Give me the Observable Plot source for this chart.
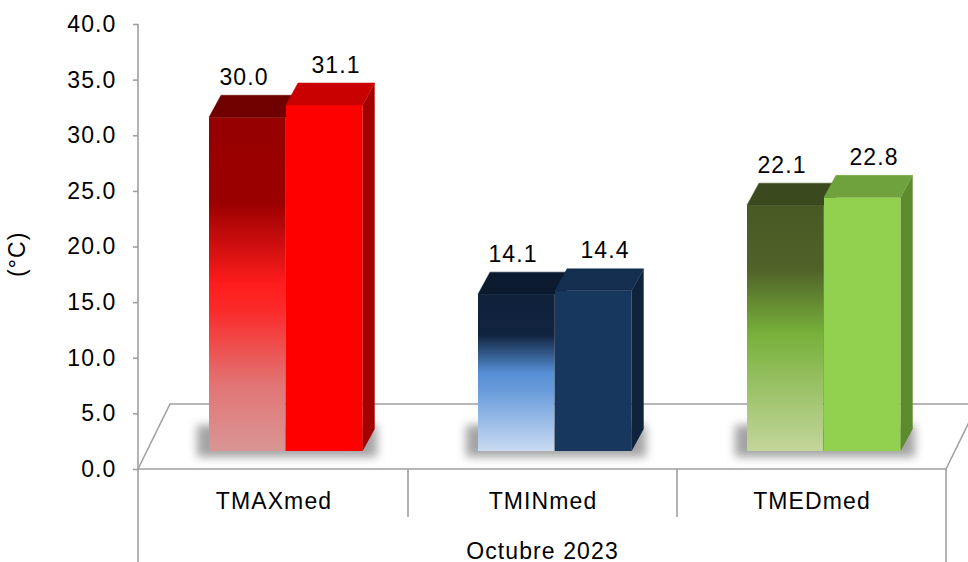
<!DOCTYPE html>
<html>
<head>
<meta charset="utf-8">
<script src="https://cdn.jsdelivr.net/npm/d3@7"></script>
<script src="https://cdn.jsdelivr.net/npm/@observablehq/plot@0.6"></script>
<style>
  html, body { margin: 0; padding: 0; background: #ffffff; }
  #chart svg text { letter-spacing: 1.1px; }
</style>
</head>
<body>
<div id="chart"></div>
<script>
// Monthly mean temperatures (°C): reference value vs. the month shown
const categories = ["TMAXmed", "TMINmed", "TMEDmed"];
const referenceValues = [30.0, 14.1, 22.1];
const monthValues = [31.1, 14.4, 22.8];
const yTicks = [0, 5, 10, 15, 20, 25, 30, 35, 40];
const yLabel = "(°C)";
const periodLabel = "Octubre 2023";

// Colours for the front (gradient) bars and the solid bars
const gradientStops = {
  TMAXmed: [[0, "#960000"], [0.26, "#9c0000"], [0.5, "#ff1c1c"], [0.58, "#fb2a2a"], [0.8, "#e27474"], [1, "#d99694"]],
  TMINmed: [[0, "#0f213b"], [0.26, "#11243f"], [0.5, "#558ed5"], [0.62, "#6a9cdb"], [1, "#c9dbf2"]],
  TMEDmed: [[0, "#475a24"], [0.26, "#4f6228"], [0.52, "#77b03a"], [1, "#c3d69b"]]
};
const gradTop = {TMAXmed: "#700000", TMINmed: "#0b1a2f", TMEDmed: "#3b4a1e"};
const gradSide = {TMAXmed: "#6a0000", TMINmed: "#0a172a", TMEDmed: "#34431b"};
const solidFront = {TMAXmed: "#ff0000", TMINmed: "#17375e", TMEDmed: "#92d050"};
const solidTop = {TMAXmed: "#c80000", TMINmed: "#132e4e", TMEDmed: "#6fa23c"};
const solidSide = {TMAXmed: "#a30000", TMINmed: "#10233d", TMEDmed: "#5e8a2e"};

const referenceRows = categories.map((category, i) => ({category, value: referenceValues[i]}));
const monthRows = categories.map((category, i) => ({category, value: monthValues[i]}));

const gradId = (c) => `grad-${c}`;

// bar depth (perspective offset of top and side faces)
const DX = 12, DY = -22;
// floor depth
const FX = 32, FY = -65;
const LINE = "#a0a0a0";

// Adds top and side faces to every bar drawn by a barY mark
function extrude(rows, topColors, sideColors) {
  return function (index, scales, values, dimensions, context, next) {
    const g = next(index, scales, values, dimensions, context);
    const rects = Array.from(g.querySelectorAll("rect"));
    rects.forEach((r, j) => {
      const cat = rows[index[j]].category;
      const x = +r.getAttribute("x"), y = +r.getAttribute("y");
      const w = +r.getAttribute("width"), h = +r.getAttribute("height");
      const parent = r.parentNode;
      const side = document.createElementNS("http://www.w3.org/2000/svg", "polygon");
      side.setAttribute("points", [[x + w, y], [x + w + DX, y + DY], [x + w + DX, y + h + DY], [x + w, y + h]].map(p => p.join(",")).join(" "));
      side.setAttribute("fill", sideColors[cat]);
      const top = document.createElementNS("http://www.w3.org/2000/svg", "polygon");
      top.setAttribute("points", [[x, y], [x + DX, y + DY], [x + w + DX, y + DY], [x + w, y]].map(p => p.join(",")).join(" "));
      top.setAttribute("fill", topColors[cat]);
      top.setAttribute("stroke", topColors[cat]);
      top.setAttribute("stroke-width", 0.5);
      parent.appendChild(side);
      parent.appendChild(top);
    });
    return g;
  };
}

// Floor plane, axis line and category dividers
function floorMark(index, scales, values, dimensions) {
  const {width, height, marginLeft, marginRight, marginTop} = dimensions;
  const y0 = scales.y(0);
  const xl = marginLeft, xr = width - marginRight;
  const g = d3.create("svg:g");
  g.append("path")
    .attr("d", `M${xl},${y0}L${xl + FX},${y0 + FY}L${xr + FX},${y0 + FY}L${xr},${y0}Z`)
    .attr("fill", "#ffffff")
    .attr("stroke", LINE)
    .attr("stroke-width", 1.6);
  const lines = g.append("g").attr("stroke", LINE).attr("stroke-width", 1.6);
  lines.append("line").attr("x1", xl).attr("x2", xl).attr("y1", marginTop).attr("y2", height);
  lines.append("line").attr("x1", xr).attr("x2", xr).attr("y1", y0).attr("y2", height);
  categories.slice(1).forEach(c => {
    const xc = scales.x(c);
    lines.append("line").attr("x1", xc).attr("x2", xc).attr("y1", y0).attr("y2", y0 + 48);
  });
  return g.node();
}

// Soft shadow cast on the floor under each pair of bars
function shadowMark(index, scales, values, dimensions) {
  const y0 = scales.y(0);
  const g = d3.create("svg:g");
  const f = g.append("defs").append("filter").attr("id", "floor-blur")
    .attr("x", "-30%").attr("y", "-50%").attr("width", "160%").attr("height", "200%");
  f.append("feGaussianBlur").attr("stdDeviation", 5);
  categories.forEach(c => {
    const xc = scales.x(c);
    g.append("rect")
      .attr("x", xc + 58).attr("y", y0 - 44)
      .attr("width", 180).attr("height", 32)
      .attr("fill", "#4a4a4a").attr("opacity", 0.5)
      .attr("filter", "url(#floor-blur)");
  });
  return g.node();
}

const chart = Plot.plot({
  width: 968,
  height: 562,
  marginLeft: 138,
  marginRight: 22,
  marginTop: 24,
  marginBottom: 93,
  style: {fontFamily: '"Liberation Sans", Arial, sans-serif', background: "#ffffff", color: "#000000"},
  x: {domain: categories, padding: 0},
  y: {domain: [0, 40]},
  color: {type: "identity"},
  marks: [
    floorMark,
    shadowMark,
    Plot.barY(referenceRows, {
      x: "category", y: "value",
      fill: d => `url(#${gradId(d.category)})`,
      insetLeft: 70, insetRight: 122.3, dy: -18,
      render: extrude(referenceRows, gradTop, gradSide)
    }),
    Plot.barY(monthRows, {
      x: "category", y: "value",
      fill: d => solidFront[d.category],
      insetLeft: 147, insetRight: 45.3, dy: -18,
      render: extrude(monthRows, solidTop, solidSide)
    }),
    Plot.text(referenceRows, {
      x: "category", y: "value", text: d => d.value.toFixed(1),
      dx: -30, dy: -51, lineAnchor: "bottom", fontSize: 23, fill: "#000000"
    }),
    Plot.text(monthRows, {
      x: "category", y: "value", text: d => d.value.toFixed(1),
      dx: 62, dy: -51, lineAnchor: "bottom", fontSize: 23, fill: "#000000"
    }),
    Plot.axisY({
      ticks: yTicks, tickFormat: d => d.toFixed(1),
      tickSize: 5, tickPadding: 17, fontSize: 23,
      stroke: LINE, strokeWidth: 1.6, label: null
    }),
    Plot.axisX({tickSize: 0, tickPadding: 23, fontSize: 23, label: null}),
    Plot.text([yLabel], {
      text: d => d, frameAnchor: "left", rotate: -90,
      dx: -121, dy: 30, fontSize: 23, fill: "#000000"
    }),
    Plot.text([periodLabel], {
      text: d => d, frameAnchor: "bottom", lineAnchor: "bottom",
      dy: 89, fontSize: 23, fill: "#000000"
    })
  ]
});

// Vertical gradients for the front bars
const defs = d3.select(chart).insert("defs", ":first-child");
categories.forEach(c => {
  const lg = defs.append("linearGradient").attr("id", gradId(c))
    .attr("x1", 0).attr("y1", 0).attr("x2", 0).attr("y2", 1);
  gradientStops[c].forEach(([o, col]) => lg.append("stop").attr("offset", o).attr("stop-color", col));
});

document.getElementById("chart").appendChild(chart);
</script>
</body>
</html>
